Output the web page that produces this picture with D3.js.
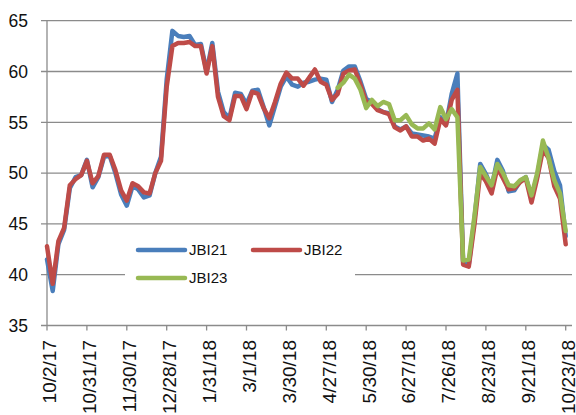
<!DOCTYPE html>
<html><head><meta charset="utf-8">
<script src="https://cdn.jsdelivr.net/npm/d3@7"></script>
<style>html,body{margin:0;padding:0;background:#fff;}</style>
</head><body>
<svg id="chart" width="576" height="415"></svg>
<script>
// x labels (every 21 trading days)
const tickLabels = ["10/2/17","10/31/17","11/30/17","12/28/17","1/31/18","3/1/18","3/30/18","4/27/18","5/30/18","6/27/18","7/26/18","8/23/18","9/21/18","10/23/18"];
const tickStep = 21;      // trading days between labels
const sampleStep = 3;     // trading days between stored values
const yTicks = [35,40,45,50,55,60,65];
const seriesNames = ["JBI21","JBI22","JBI23"];
// values sampled every 3 trading days starting 10/2/17
const jbi21 = [41.5,38.4,43.0,44.4,48.5,49.6,49.8,51.3,48.6,49.6,51.6,51.7,50.0,47.9,46.8,48.7,48.4,47.6,47.8,50.0,51.6,59.2,64.0,63.5,63.4,63.5,62.6,62.7,60.0,62.8,58.0,56.0,55.4,57.9,57.8,56.8,58.1,58.2,56.5,54.7,56.6,58.5,59.5,58.7,58.5,58.9,59.0,59.2,59.3,59.2,57.0,58.2,60.1,60.5,60.5,59.0,57.3,57.0,56.3,56.0,55.9,54.6,54.3,54.6,53.9,53.8,53.7,53.6,53.4,55.5,54.8,57.8,59.8,41.3,41.0,45.5,50.9,49.9,48.6,51.3,50.2,48.2,48.3,49.2,49.6,47.6,49.7,52.8,52.3,50.2,48.8,43.8];
const jbi22 = [42.8,39.1,43.3,44.6,48.8,49.4,49.8,51.2,49.0,49.7,51.8,51.8,50.3,48.3,47.3,49.0,48.7,48.1,48.0,50.0,51.2,58.5,62.5,62.8,62.8,62.9,62.5,62.5,59.8,62.5,57.5,55.6,55.2,57.6,57.6,56.3,58.0,57.8,56.4,55.4,57.0,58.8,59.9,59.3,59.3,58.6,59.4,60.2,59.0,58.7,57.2,57.8,59.8,60.1,60.2,58.7,57.0,56.8,56.2,56.0,55.8,54.5,54.2,54.6,53.6,53.6,53.2,53.4,52.9,55.3,54.7,57.2,58.2,41.0,40.8,45.0,50.0,49.2,48.0,50.5,49.5,48.4,48.5,49.1,49.5,47.1,49.5,52.3,51.5,48.7,47.5,43.0];
const jbi23Start = 51; // first sample index of JBI23
const jbi23 = [58.4,58.9,59.7,59.3,58.2,56.4,57.2,56.6,57.0,56.8,55.2,55.2,55.7,54.8,54.4,54.4,54.9,54.3,56.5,55.3,56.3,55.5,41.4,41.5,45.8,50.6,49.7,48.8,50.9,50.0,48.8,48.7,49.3,49.6,47.8,50.0,53.2,51.5,49.3,48.0,44.3];
const colors = ["#4a7ebb","#be4b48","#98b954"];

const svg = d3.select("#chart");
const pLeft = 47, pRight = 572, pTop = 20.7, pBottom = 325.5;
const lastIndex = (tickLabels.length-1)*tickStep;
const x = d3.scaleLinear().domain([0, lastIndex]).range([pLeft, 565.7]);
const y = d3.scaleLinear().domain([35,65]).range([pBottom, pTop]);
const grid = "#8b8b8b";
const font = "'Liberation Sans', Arial, sans-serif";

// gridlines + y ticks
svg.append("g").selectAll("line").data(yTicks.slice(1)).join("line")
  .attr("x1", pLeft-6).attr("x2", pRight)
  .attr("y1", d=>y(d)).attr("y2", d=>y(d))
  .attr("stroke", grid).attr("stroke-width", 1.3);
// axes
svg.append("line").attr("x1",pLeft).attr("x2",pLeft).attr("y1",pTop).attr("y2",pBottom)
  .attr("stroke",grid).attr("stroke-width",1.3);
svg.append("line").attr("x1",pLeft-6).attr("x2",pRight).attr("y1",pBottom).attr("y2",pBottom)
  .attr("stroke",grid).attr("stroke-width",1.3);
svg.append("g").selectAll("text").data(yTicks).join("text")
  .attr("x", 28).attr("y", d=>y(d)).attr("dy","0.36em")
  .attr("text-anchor","end").attr("font-family",font).attr("font-size","17.5px").attr("fill","#111")
  .text(d=>d);
// x ticks
const tickIdx = tickLabels.map((d,i)=>i*tickStep);
svg.append("g").selectAll("line").data(tickIdx).join("line")
  .attr("x1", d=>x(d)).attr("x2", d=>x(d)).attr("y1", pBottom).attr("y2", pBottom+5)
  .attr("stroke", grid).attr("stroke-width", 1.3);
svg.append("g").selectAll("text").data(tickLabels).join("text")
  .attr("transform", (d,i)=>`translate(${x(i*tickStep)+2.5},340) rotate(-90)`)
  .attr("dy","0.36em").attr("text-anchor","end")
  .attr("font-family",font).attr("font-size","19px").attr("fill","#111")
  .text(d=>d);

// legend box (drawn before lines, covers gridline)
svg.append("rect").attr("x",125).attr("y",236).attr("width",230).attr("height",54).attr("fill","#fff");

const line = d3.line().x(d=>x(d[0])).y(d=>y(d[1])).curve(d3.curveLinear);
const seriesData = [
  jbi21.map((v,i)=>[i*sampleStep, v]),
  jbi22.map((v,i)=>[i*sampleStep, v]),
  jbi23.map((v,i)=>[(i+jbi23Start)*sampleStep, v])
];
seriesData.forEach((s,i)=>{
  svg.append("path").datum(s).attr("d", line)
    .attr("fill","none").attr("stroke", colors[i]).attr("stroke-width", 4.5)
    .attr("stroke-linejoin","round").attr("stroke-linecap","round");
});

// legend
const legPos = [[138,250],[253,250],[138,278]];
seriesNames.forEach((n,i)=>{
  const [lx,ly] = legPos[i];
  svg.append("line").attr("x1",lx).attr("x2",lx+47).attr("y1",ly).attr("y2",ly)
    .attr("stroke",colors[i]).attr("stroke-width",4.5).attr("stroke-linecap","round");
  svg.append("text").attr("x",lx+51).attr("y",ly).attr("dy","0.36em")
    .attr("font-family",font).attr("font-size","15px").attr("fill","#111").text(n);
});
</script>
</body></html>
